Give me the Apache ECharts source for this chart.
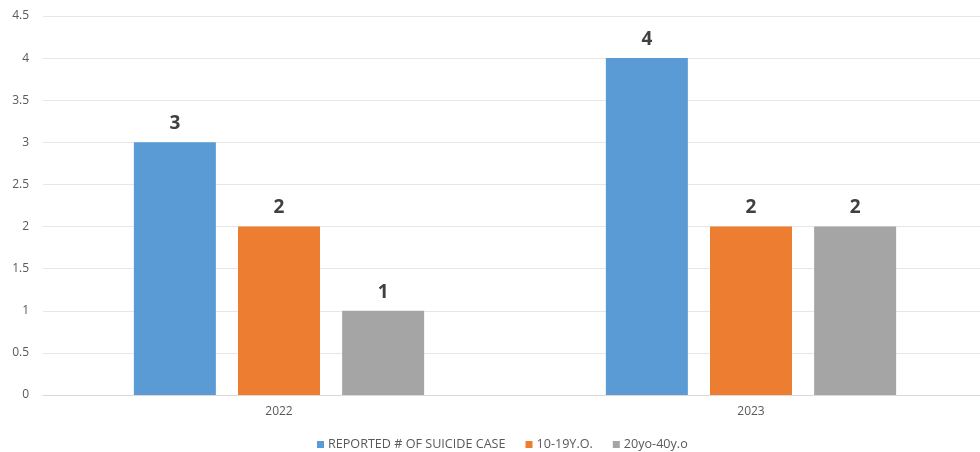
<!DOCTYPE html>
<html><head><meta charset="utf-8">
<script src="https://cdn.jsdelivr.net/npm/echarts@6/dist/echarts.min.js"></script>
<style>html,body{margin:0;padding:0;background:#fff}#c{width:980px;height:452px}</style>
</head><body><div id="c"></div>
<script>
var categories = ['2022', '2023'];
var seriesNames = ['REPORTED # OF SUICIDE CASE', '10-19Y.O.', '20yo-40y.o'];
var reported = [3, 4];
var teens = [2, 2];
var adults = [1, 2];
var colors = ['#5b9bd5', '#ed7d31', '#a5a5a5'];
var chart = echarts.init(document.getElementById('c'));
function mk(name, data, color) {
  return {
    name: name, type: 'bar', data: data, barWidth: 82, barGap: '27%',
    itemStyle: { color: color },
    label: { show: true, position: 'top', distance: 9, fontSize: 19, fontWeight: 'bold', color: '#404040', fontFamily: 'Open Sans' }
  };
}
chart.setOption({
  animation: false,
  textStyle: { fontFamily: 'Open Sans' },
  legend: {
    top: 433, left: 312, itemWidth: 7, itemHeight: 7, itemGap: 20, icon: 'rect',
    textStyle: { color: '#595959', fontSize: 12.6, fontFamily: 'Open Sans', padding: [0, 0, 0, -1] }
  },
  grid: { left: 43, width: 944, top: 16, height: 379, outerBoundsMode: 'none', containLabel: false },
  xAxis: {
    type: 'category', data: categories,
    axisLine: { lineStyle: { color: '#d9d9d9' } }, axisTick: { show: false },
    axisLabel: { color: '#595959', fontSize: 12, margin: 11 }
  },
  yAxis: {
    type: 'value', min: 0, max: 4.5, interval: 0.5,
    axisLabel: { color: '#595959', fontSize: 12, margin: 14 },
    splitLine: { lineStyle: { color: '#e6e6e6' } },
    axisLine: { show: false }, axisTick: { show: false }
  },
  series: [mk(seriesNames[0], reported, colors[0]), mk(seriesNames[1], teens, colors[1]), mk(seriesNames[2], adults, colors[2])]
});
</script></body></html>
